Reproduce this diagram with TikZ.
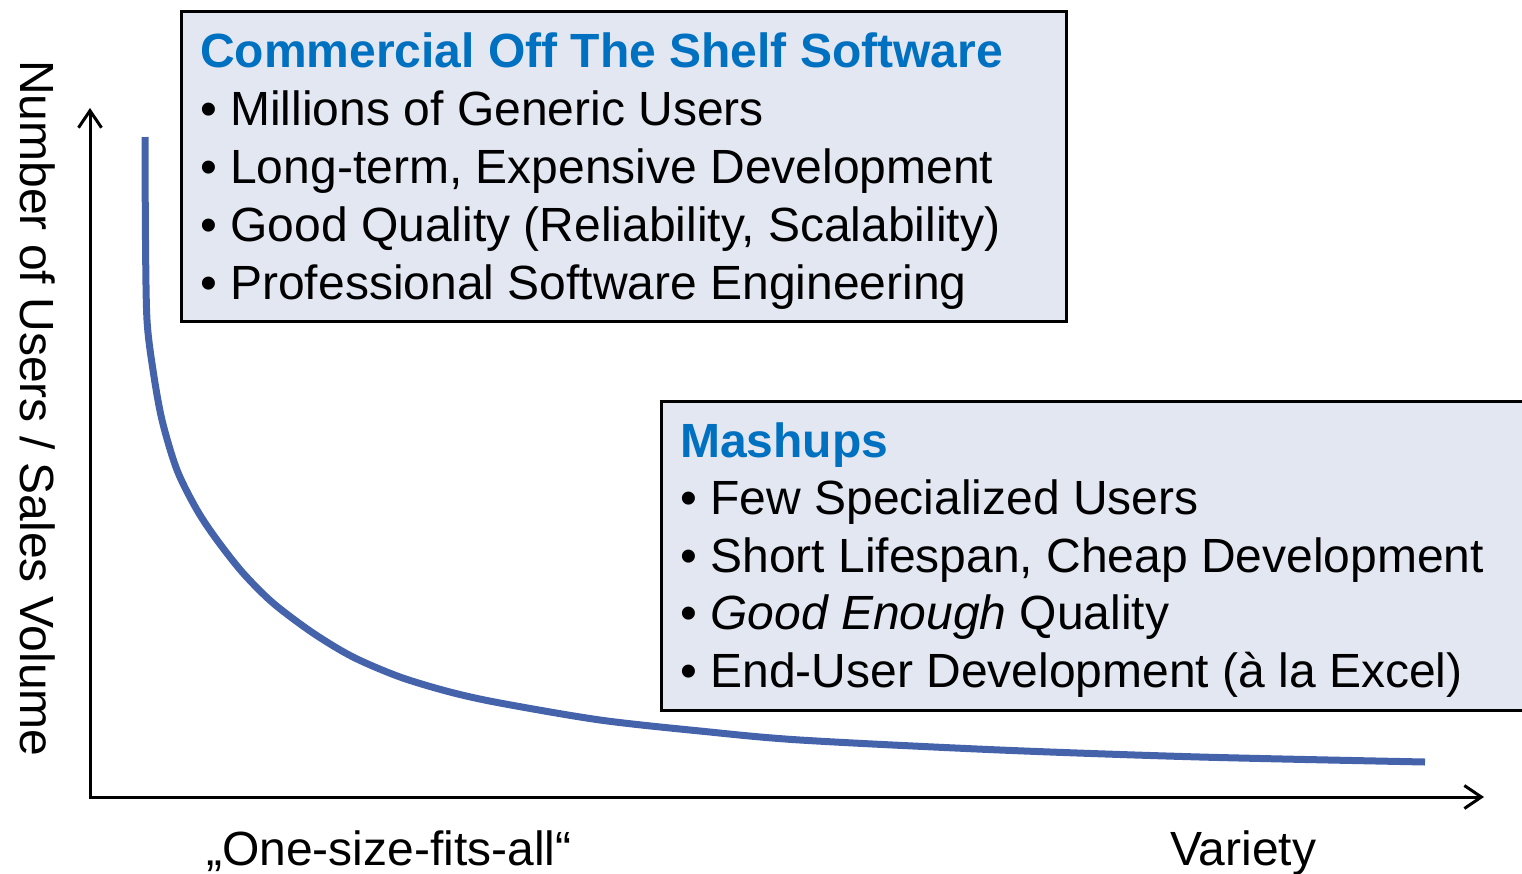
\documentclass[tikz,border=0pt]{standalone}
\usepackage{fontspec}
\setmainfont{Liberation Sans}
\usetikzlibrary{arrows.meta}

\definecolor{curveblue}{RGB}{69,99,171}
\definecolor{boxfill}{RGB}{227,231,241}
\definecolor{titleblue}{RGB}{0,112,192}

\tikzset{
  axis/.style={line width=3pt, {Straight Barb[length=17pt,width=23pt]}-{Straight Barb[length=17pt,width=23pt]}},
  infobox/.style={draw=black, line width=2.5pt, fill=boxfill, anchor=north west, inner sep=0pt},
  boxtitle/.style={anchor=base west, inner sep=0pt, text=titleblue, font=\fontsize{48}{58}\selectfont\bfseries},
  item/.style={anchor=base west, inner sep=0pt, font=\fontsize{48}{58}\selectfont},
  axislabel/.style={anchor=base west, inner sep=0pt, font=\fontsize{48}{58}\selectfont}
}

\begin{document}
\begin{tikzpicture}[x=1pt, y=-1pt]
			\useasboundingbox (0,0) rectangle (1522,873);

			% boxes
			\node[infobox, minimum width=885pt, minimum height=310pt] (cots) at (180,10) {};
			\node[infobox, minimum width=900pt, minimum height=309pt] (mash) at (660,400) {};

			\node[boxtitle] (cots-title) at (200,67) {Commercial Off The Shelf Software};
			\foreach \txt [count=\i] in {Millions of Generic Users, {Long-term, Expensive Development},
				{Good Quality (Reliability, Scalability)}, Professional Software Engineering}
				\node[item] (cots-\i) at (200,67+58*\i) {• \txt};

			\node[boxtitle] (mash-title) at (680,457) {Mashups};
			\foreach \txt [count=\i] in {Few Specialized Users, {Short Lifespan, Cheap Development},
				{\textit{Good Enough} Quality}, End-User Development (à la Excel)}
				\node[item] (mash-\i) at (680,457+57.5*\i) {• \txt};

			% axes
			\coordinate (origin) at (90,797);
			\coordinate (ytip) at (90,108);
			\coordinate (xtip) at (1484,797);
			\draw[axis] (ytip) -- (origin) -- (xtip);

			\node[axislabel, rotate=-90] (ylabel) at (20,60) {Number of Users / Sales Volume};
			\node[axislabel] (onesize) at (206,865) {„One-size-fits-all“};
			\node[axislabel] (variety) at (1170,865) {Variety};

			% long tail
			\draw[curveblue, line width=7pt] plot[smooth, tension=0.5] coordinates {(145,137) (145.5,240)
				(147,320) (153,370) (162,420) (177,470) (197,510) (217,540) (243,573) (273,603) (313,633)
				(353,657) (400,677) (450,692) (500,703) (600,720) (700,731) (800,740) (1000,750)
				(1200,757) (1425,762)};
		\end{tikzpicture}
\end{document}
